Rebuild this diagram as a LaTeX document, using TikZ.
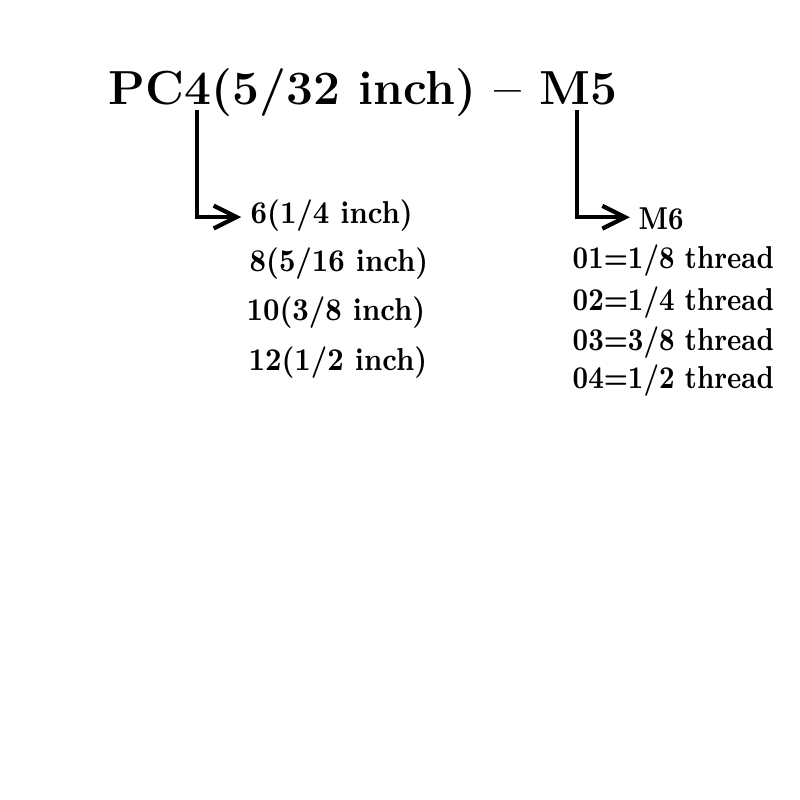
\documentclass[tikz,border=0pt]{standalone}
\usetikzlibrary{arrows.meta}
\newcommand{\narrowed}[2]{\scalebox{#1}[1]{#2}}
\begin{document}
\begin{tikzpicture}[x=0.01cm,y=-0.01cm,
	lbl/.style={anchor=west,inner sep=0pt,font=\fontsize{9}{11}\selectfont\bfseries},
	pointer/.style={line width=1.2pt,-{Straight Barb[length=6.5pt,width=6.5pt]}}]
	\useasboundingbox (0,0) rectangle (800,800);
	\node[inner sep=0pt,font=\fontsize{13.6}{16}\selectfont\bfseries] (title) at (363,93) {PC4(5/32 inch) -- M5};
	\coordinate (pc) at (197,110);
	\coordinate (mf) at (577,110);
	% sizes
	\node[lbl] (s6) at (250,216) {\narrowed{.88}{6(1/4 inch)}};
	\node[lbl] (s8) at (249,264) {\narrowed{.88}{8(5/16 inch)}};
	\node[lbl] (s10) at (246,313) {\narrowed{.88}{10(3/8 inch)}};
	\node[lbl] (s12) at (248,363) {\narrowed{.88}{12(1/2 inch)}};
	% threads
	\node[lbl] (m6) at (638,219) {\narrowed{.83}{M6}};
	\node[lbl] (t1) at (572,261) {\narrowed{.83}{01=1/8 thread}};
	\node[lbl] (t2) at (572,303) {\narrowed{.83}{02=1/4 thread}};
	\node[lbl] (t3) at (572,343) {\narrowed{.83}{03=3/8 thread}};
	\node[lbl] (t4) at (572,381) {\narrowed{.83}{04=1/2 thread}};
	\draw[pointer] (pc) |- ([xshift=-2.5pt,yshift=-0.3pt]s6.west);
	\draw[pointer] (mf) |- ([xshift=-2.3pt,yshift=0.5pt]m6.west);
\end{tikzpicture}
\end{document}
